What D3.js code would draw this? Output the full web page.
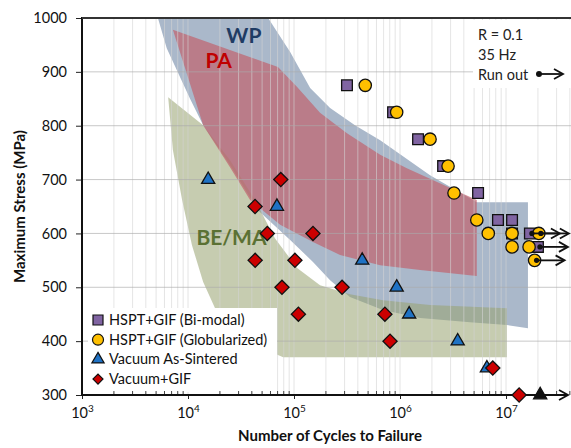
<!DOCTYPE html>
<html><head><meta charset="utf-8">
<script src="https://cdn.jsdelivr.net/npm/d3@7"></script>
<style>body{margin:0;background:#fff}svg text{font-family:Lato,"Open Sans",sans-serif}</style>
</head><body><svg id="c" width="571" height="448"></svg>
<script>
// ---- data ----
const yTicks = [300,400,500,600,700,800,900,1000];
const xDecades = [3,4,5,6,7];
const seriesNames = ["HSPT+GIF (Bi-modal)","HSPT+GIF (Globularized)","Vacuum As-Sintered","Vacuum+GIF"];
// [cycles, MPa]
const biModal = [[3.16e5,875],[8.6e5,825],[1.48e6,775],[2.55e6,725],[5.45e6,675],[8.4e6,625],[1.14e7,625],[1.14e7,600],[1.68e7,600],[2.0e7,575]];
const globularized = [[4.7e5,875],[9.3e5,825],[1.92e6,775],[2.84e6,725],[3.23e6,675],[5.3e6,625],[6.8e6,600],[1.14e7,600],[1.14e7,575],[1.65e7,575],[2.04e7,600],[1.86e7,550]];
const asSintered = [[1.55e4,700],[6.9e4,650],[4.4e5,550],[9.3e5,500],[1.22e6,450],[3.5e6,400],[6.6e6,350]];
const asSinteredRunout = [[2.1e7,300]];
const vacuumGIF = [[4.29e4,650],[7.5e4,700],[5.6e4,600],[1.51e5,600],[4.3e4,550],[1.02e5,550],[7.7e4,500],[2.84e5,500],[1.1e5,450],[7.2e5,450],[8.05e5,400],[7.5e6,350],[1.33e7,300]];
const runouts = [[1.68e7,600],[2.04e7,600],[2.0e7,575],[1.86e7,550]];
// scatter-band regions [cycles, MPa]
const regionWP = [[5.2e3,1000],[5.7e4,1000],[9.2e4,937],[1.42e5,870],[2.19e5,833],[3.76e5,801],[6.5e5,773],[1.92e6,708],[5.3e6,658],[1.61e7,658],[1.61e7,424],[1.02e7,430],[4.57e6,435],[1.55e6,443],[6.9e5,458],[3.37e5,482],[2.19e5,513],[1.51e5,547],[9.2e4,588],[4.57e4,643],[2.49e4,727],[1.39e4,801],[1.04e4,851],[6.3e3,944]];
const regionPA = [[7.2e3,978],[7.06e4,909],[1.07e5,872],[1.76e5,824],[3.16e5,786],[6.5e5,746],[1.16e6,721],[5.3e6,662],[5.3e6,521],[1.55e6,532],[6.5e5,541],[2.72e5,560],[1.51e5,584],[7.4e4,616],[3.85e4,662],[2.49e4,723],[1.39e4,801]];
const regionBE = [[6.5e3,853],[1.39e4,801],[2.49e4,736],[4.29e4,662],[6.6e4,591],[1.07e5,536],[1.76e5,504],[3.37e5,487],[6.9e5,476],[1.92e6,467],[1.02e7,461],[1.02e7,370],[7.9e4,370],[4.29e4,393],[2.6e4,424],[1.8e4,461],[1.39e4,510],[1.09e4,578],[8.8e3,662],[7.2e3,755]];
const regionLabels = [["WP",2.3e4,954],["PA",1.46e4,908],["BE/MA",1.2e4,578]];
const notes = ["R = 0.1","35 Hz","Run out"];

// ---- drawing ----
const svg = d3.select("#c");
const W = 571, xMax = Math.pow(10,7.613);
const x = d3.scaleLog().domain([1e3,xMax]).range([82,W]);
const y = d3.scaleLinear().domain([300,1000]).range([395,18]);
const line = d3.line().x(d=>x(d[0])).y(d=>y(d[1])).curve(d3.curveLinearClosed);

// regions
svg.append("path").attr("d",line(regionWP)).attr("fill","#aab8ca");
svg.append("path").attr("d",line(regionBE)).attr("fill","#97a26f").attr("fill-opacity",0.55);
svg.append("path").attr("d",line(regionPA)).attr("fill","#c1626e").attr("fill-opacity",0.7);

// grid
const minor = [];
xDecades.forEach(d=>{for(let k=1;k<10;k++){const v=k*Math.pow(10,d); if(v>1e3 && v<=xMax) minor.push(v);}});
svg.append("g").selectAll("line").data(minor).join("line")
  .attr("x1",d=>x(d)).attr("x2",d=>x(d)).attr("y1",y(1000)).attr("y2",y(300))
  .attr("stroke","rgb(212,212,212)").attr("stroke-opacity",0.6).attr("stroke-width",1);
svg.append("g").selectAll("line").data(yTicks.filter(v=>v>300&&v<1000)).join("line")
  .attr("x1",x(1e3)).attr("x2",W).attr("y1",d=>y(d)).attr("y2",d=>y(d))
  .attr("stroke","rgb(170,170,170)").attr("stroke-opacity",0.65).attr("stroke-width",1);

// region labels
const lblColors = {"WP":"#1f3c64","PA":"#c00000","BE/MA":"#5b7133"};
svg.append("g").selectAll("text").data(regionLabels).join("text")
  .attr("x",d=>x(d[1])).attr("y",d=>y(d[2])).text(d=>d[0])
  .attr("font-size",21).attr("font-weight","bold").attr("fill",d=>lblColors[d[0]]);

// annotation box
svg.append("rect").attr("x",473).attr("y",20).attr("width",W-473).attr("height",68).attr("fill","#fff");
svg.append("g").selectAll("text").data(notes).join("text")
  .attr("x",478).attr("y",(d,i)=>40+i*20).text(d=>d).attr("font-size",14.5).attr("fill","#222");

// legend box
svg.append("rect").attr("x",88).attr("y",308).attr("width",189).attr("height",84).attr("fill","#fff");

// axes
const yAxis = d3.axisLeft(y).tickValues(yTicks).tickSize(6).tickPadding(9).tickFormat(d3.format("d"));
const gy = svg.append("g").attr("transform",`translate(${x(1e3)},0)`).call(yAxis);
gy.select(".domain").remove();
gy.selectAll("text").attr("font-size",14.5).attr("fill","#111");
gy.selectAll("line").attr("stroke","#222");

const xAxis = d3.axisBottom(x).tickValues(xDecades.map(d=>Math.pow(10,d))).tickSize(4).tickPadding(6).tickFormat("");
const gx = svg.append("g").attr("transform",`translate(0,${y(300)})`).call(xAxis);
gx.select(".domain").remove();
gx.selectAll("line").attr("stroke","#222");
gx.selectAll(".tick").append("text").attr("y",23).attr("fill","#111").attr("font-size",14.5).attr("text-anchor","middle")
  .each(function(d){const t=d3.select(this); t.append("tspan").text("10"); t.append("tspan").attr("dy",-6).attr("font-size",10).text(Math.round(Math.log10(d)));});
// minor ticks inward
svg.append("g").selectAll("line").data(minor.filter(v=>![1e4,1e5,1e6,1e7].includes(v))).join("line")
  .attr("x1",d=>x(d)).attr("x2",d=>x(d)).attr("y1",y(300)).attr("y2",y(300)-4).attr("stroke","#444");

// axis lines
svg.append("line").attr("x1",x(1e3)).attr("x2",x(1e3)).attr("y1",y(1000)-1).attr("y2",y(300)+1).attr("stroke","#111").attr("stroke-width",2);
svg.append("line").attr("x1",x(1e3)).attr("x2",W).attr("y1",y(1000)).attr("y2",y(1000)).attr("stroke","#333").attr("stroke-width",2);
svg.append("line").attr("x1",x(1e3)).attr("x2",567).attr("y1",y(300)).attr("y2",y(300)).attr("stroke","#111").attr("stroke-width",2);
function chevron(g,tx,ty){g.append("path").attr("d",`M${tx-9},${ty-5}L${tx},${ty}L${tx-9},${ty+5}`).attr("fill","none").attr("stroke","#111").attr("stroke-width",1.8);}
chevron(svg,568,y(300));

// axis titles
svg.append("text").attr("x",330).attr("y",441).attr("text-anchor","middle").attr("font-size",15).attr("font-weight","bold").attr("fill","#111").text("Number of Cycles to Failure");
svg.append("text").attr("transform",`translate(25,${(y(300)+y(1000))/2}) rotate(-90)`).attr("text-anchor","middle").attr("font-size",15).attr("font-weight","bold").attr("fill","#111").text("Maximum Stress (MPa)");

// markers
const sq = d3.symbol(d3.symbolSquare,115)(), ci = d3.symbol(d3.symbolCircle,120)(), tr = d3.symbol(d3.symbolTriangle,75)(), di = d3.symbol(d3.symbolSquare,100)();
const styles = [
  {data:biModal,path:sq,fill:"#8064a2",rot:0},
  {data:globularized,path:ci,fill:"#ffc000",rot:0},
  {data:asSintered,path:tr,fill:"#1f72c4",rot:0},
  {data:asSinteredRunout,path:tr,fill:"#111",rot:0},
  {data:vacuumGIF,path:di,fill:"#cc0000",rot:45}
];
styles.forEach(s=>{
  svg.append("g").selectAll("path").data(s.data).join("path")
    .attr("d",s.path).attr("transform",d=>`translate(${x(d[0])},${y(d[1])}) rotate(${s.rot})`)
    .attr("fill",s.fill).attr("stroke","#111").attr("stroke-width",1.3);
});

// runout arrows
runouts.forEach(d=>{
  const px=x(d[0]), py=y(d[1]);
  svg.append("circle").attr("cx",px+2).attr("cy",py).attr("r",2.6).attr("fill","#111");
  svg.append("line").attr("x1",px+2).attr("x2",px+29).attr("y1",py).attr("y2",py).attr("stroke","#111").attr("stroke-width",1.8);
  chevron(svg,px+30,py);
});
// note arrow
svg.append("circle").attr("cx",539).attr("cy",74).attr("r",3).attr("fill","#111");
svg.append("line").attr("x1",539).attr("x2",562).attr("y1",74).attr("y2",74).attr("stroke","#111").attr("stroke-width",1.8);
chevron(svg,563,74);

// legend
const leg = svg.append("g").selectAll("g").data(seriesNames).join("g").attr("transform",(d,i)=>`translate(98,${320+i*19.7})`);
leg.append("path").attr("d",(d,i)=>[d3.symbol(d3.symbolSquare,100)(),d3.symbol(d3.symbolCircle,95)(),d3.symbol(d3.symbolTriangle,65)(),d3.symbol(d3.symbolSquare,50)()][i])
  .attr("transform",(d,i)=>i===3?"rotate(45)":null)
  .attr("fill",(d,i)=>["#8064a2","#ffc000","#1f72c4","#cc0000"][i]).attr("stroke","#111").attr("stroke-width",1.2);
leg.append("text").attr("x",11).attr("y",5).attr("font-size",14.5).attr("fill","#111").text(d=>d);
</script></body></html>
